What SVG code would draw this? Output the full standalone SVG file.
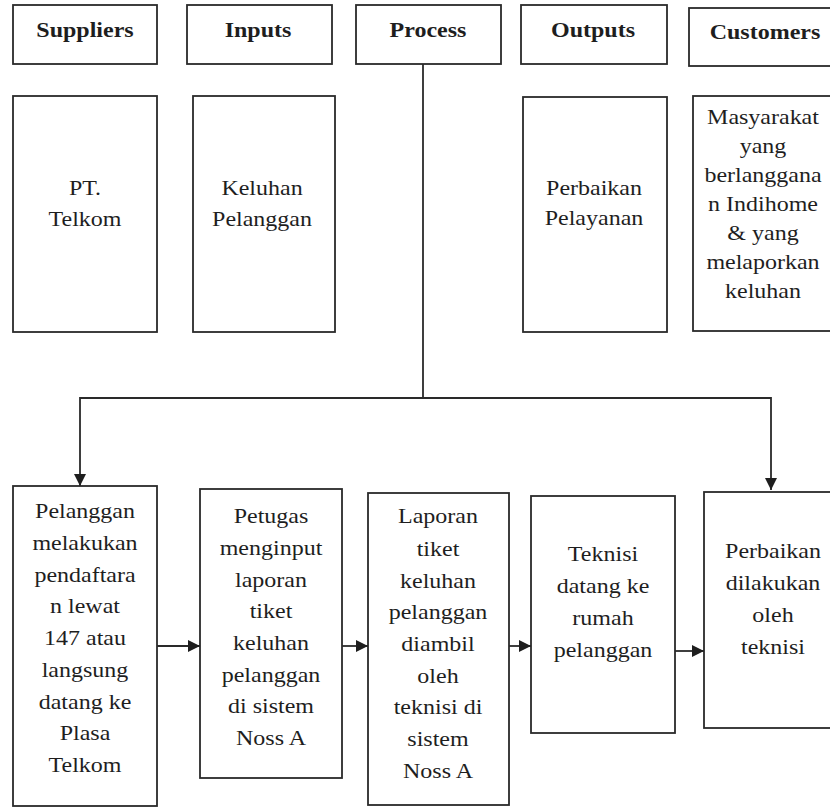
<svg xmlns="http://www.w3.org/2000/svg" width="830" height="807" viewBox="0 0 830 807">
<defs>
<style>
.box{fill:#fff;stroke:#2a2a2a;stroke-width:1.8}
.t{font-family:'Liberation Serif','DejaVu Serif',serif;font-size:20px;fill:#1e1e1e;text-anchor:middle}
.h{font-weight:bold}
.c{fill:none;stroke:#2a2a2a;stroke-width:1.8}
</style>
<marker id="ah" markerUnits="userSpaceOnUse" markerWidth="12" markerHeight="12" refX="12" refY="6" orient="auto">
<path d="M0,0 L12,6 L0,12 Z" fill="#1e1e1e"/>
</marker>
</defs>
<rect width="830" height="807" fill="#fff"/>

<g id="h-suppliers"><rect class="box" x="13" y="5" width="144" height="59"/><text class="t h" font-family="Liberation Serif" transform="translate(85 0) scale(1.2 1)"><tspan x="0" y="37">Suppliers</tspan></text></g>
<g id="h-inputs"><rect class="box" x="187" y="5" width="145" height="59"/><text class="t h" font-family="Liberation Serif" transform="translate(258 0) scale(1.2 1)"><tspan x="0" y="37">Inputs</tspan></text></g>
<g id="h-process"><rect class="box" x="356" y="5" width="145" height="59"/><text class="t h" font-family="Liberation Serif" transform="translate(428 0) scale(1.2 1)"><tspan x="0" y="37">Process</tspan></text></g>
<g id="h-outputs"><rect class="box" x="521" y="5" width="146" height="59"/><text class="t h" font-family="Liberation Serif" transform="translate(593 0) scale(1.2 1)"><tspan x="0" y="37">Outputs</tspan></text></g>
<g id="h-customers"><rect class="box" x="689" y="8" width="150" height="58"/><text class="t h" font-family="Liberation Serif" transform="translate(765 0) scale(1.2 1)"><tspan x="0" y="39">Customers</tspan></text></g>

<g id="n-supplier"><rect class="box" x="13" y="96" width="144" height="236"/><text class="t" font-family="Liberation Serif" transform="translate(85 0) scale(1.2 1)"><tspan x="0" y="195">PT.</tspan><tspan x="0" y="226">Telkom</tspan></text></g>
<g id="n-input"><rect class="box" x="193" y="96" width="142" height="236"/><text class="t" font-family="Liberation Serif" transform="translate(262 0) scale(1.2 1)"><tspan x="0" y="195">Keluhan</tspan><tspan x="0" y="226">Pelanggan</tspan></text></g>
<g id="n-output"><rect class="box" x="523" y="97" width="144" height="235"/><text class="t" font-family="Liberation Serif" transform="translate(594 0) scale(1.2 1)"><tspan x="0" y="195">Perbaikan</tspan><tspan x="0" y="225">Pelayanan</tspan></text></g>
<g id="n-customer"><rect class="box" x="693" y="96" width="145" height="235"/><text class="t" font-family="Liberation Serif" transform="translate(763 0) scale(1.2 1)"><tspan x="0" y="124">Masyarakat</tspan><tspan x="0" y="153">yang</tspan><tspan x="0" y="182">berlanggana</tspan><tspan x="0" y="211">n Indihome</tspan><tspan x="0" y="240">&amp; yang</tspan><tspan x="0" y="269">melaporkan</tspan><tspan x="0" y="298">keluhan</tspan></text></g>

<g id="p1"><rect class="box" x="13" y="486" width="144" height="320"/><text class="t" font-family="Liberation Serif" transform="translate(85 0) scale(1.2 1)"><tspan x="0" y="518">Pelanggan</tspan><tspan x="0" y="550">melakukan</tspan><tspan x="0" y="582">pendaftara</tspan><tspan x="0" y="613">n lewat</tspan><tspan x="0" y="645">147 atau</tspan><tspan x="0" y="677">langsung</tspan><tspan x="0" y="709">datang ke</tspan><tspan x="0" y="740">Plasa</tspan><tspan x="0" y="772">Telkom</tspan></text></g>
<g id="p2"><rect class="box" x="200" y="489" width="142" height="289"/><text class="t" font-family="Liberation Serif" transform="translate(271 0) scale(1.2 1)"><tspan x="0" y="523">Petugas</tspan><tspan x="0" y="555">menginput</tspan><tspan x="0" y="587">laporan</tspan><tspan x="0" y="618">tiket</tspan><tspan x="0" y="650">keluhan</tspan><tspan x="0" y="682">pelanggan</tspan><tspan x="0" y="713">di sistem</tspan><tspan x="0" y="745">Noss A</tspan></text></g>
<g id="p3"><rect class="box" x="368" y="493" width="141" height="312"/><text class="t" font-family="Liberation Serif" transform="translate(438 0) scale(1.2 1)"><tspan x="0" y="523">Laporan</tspan><tspan x="0" y="556">tiket</tspan><tspan x="0" y="588">keluhan</tspan><tspan x="0" y="619">pelanggan</tspan><tspan x="0" y="651">diambil</tspan><tspan x="0" y="683">oleh</tspan><tspan x="0" y="714">teknisi di</tspan><tspan x="0" y="746">sistem</tspan><tspan x="0" y="778">Noss A</tspan></text></g>
<g id="p4"><rect class="box" x="531" y="496" width="144" height="237"/><text class="t" font-family="Liberation Serif" transform="translate(603 0) scale(1.2 1)"><tspan x="0" y="561">Teknisi</tspan><tspan x="0" y="593">datang ke</tspan><tspan x="0" y="625">rumah</tspan><tspan x="0" y="657">pelanggan</tspan></text></g>
<g id="p5"><rect class="box" x="704" y="492" width="140" height="236"/><text class="t" font-family="Liberation Serif" transform="translate(773 0) scale(1.2 1)"><tspan x="0" y="558">Perbaikan</tspan><tspan x="0" y="590">dilakukan</tspan><tspan x="0" y="622">oleh</tspan><tspan x="0" y="654">teknisi</tspan></text></g>

<g id="connectors">
<path class="c" d="M423,64 V398"/>
<path class="c" d="M423,398 H80 V486" marker-end="url(#ah)"/>
<path class="c" d="M423,398 H771 V490" marker-end="url(#ah)"/>
<path class="c" d="M157,646 H200" marker-end="url(#ah)"/>
<path class="c" d="M342,646 H368" marker-end="url(#ah)"/>
<path class="c" d="M509,646 H531" marker-end="url(#ah)"/>
<path class="c" d="M675,651 H704" marker-end="url(#ah)"/>
</g>
</svg>
